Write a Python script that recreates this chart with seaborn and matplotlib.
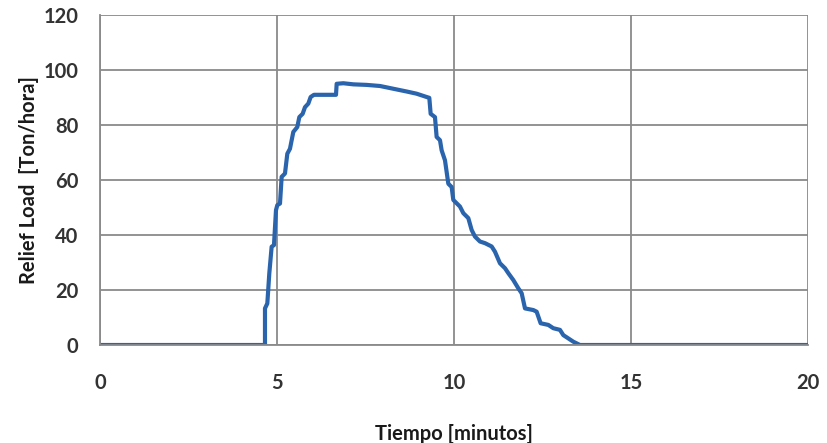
import matplotlib
matplotlib.use("Agg")
import matplotlib.pyplot as plt
import seaborn as sns
import pandas as pd

# Data
tiempo = [0.0, 4.661, 4.661, 4.727, 4.783, 4.849, 4.915, 4.972, 5.009, 5.085,
          5.132, 5.226, 5.292, 5.367, 5.461, 5.574, 5.631, 5.725, 5.791, 5.885,
          5.951, 6.045, 6.667, 6.686, 6.874, 7.156, 7.533, 7.910, 8.286, 8.663,
          8.945, 9.228, 9.303, 9.341, 9.463, 9.510, 9.605, 9.652, 9.746, 9.840,
          9.934, 9.981, 10.075, 10.169, 10.264, 10.405, 10.499, 10.593, 10.734, 10.876,
          11.064, 11.158, 11.299, 11.441, 11.535, 11.676, 11.817, 11.912, 12.006, 12.241,
          12.335, 12.448, 12.665, 12.806, 12.994, 13.088, 13.230, 13.371, 13.559, 20.0]
relief_load = [0.0, 0.0, 13.3, 15.1, 26.0, 35.7, 36.3, 49.0, 50.8, 51.4,
               61.1, 62.3, 69.5, 71.3, 77.4, 79.2, 82.8, 84.0, 86.4, 87.7,
               90.1, 90.9, 90.9, 94.9, 95.1, 94.7, 94.5, 94.1, 93.1, 92.1,
               91.3, 90.1, 89.8, 84.0, 82.8, 75.6, 74.4, 70.7, 67.1, 58.6,
               57.4, 52.7, 51.5, 50.3, 47.9, 46.1, 41.8, 39.4, 37.6, 37.0,
               35.8, 33.9, 29.7, 27.9, 26.1, 23.6, 20.6, 18.8, 13.3, 12.7,
               12.1, 7.9, 7.3, 6.1, 5.5, 3.6, 2.4, 1.2, 0.0, 0.0]
x_ticks = [0, 5, 10, 15, 20]
y_ticks = [0, 20, 40, 60, 80, 100, 120]
x_label = "Tiempo [minutos]"
y_label = "Relief Load  [Ton/hora]"

df = pd.DataFrame({"t": tiempo, "load": relief_load})

sns.set_theme(style="white")
plt.rcParams["font.family"] = ["Lato", "DejaVu Sans"]

fig = plt.figure(figsize=(8.27, 4.43), dpi=100)
ax = fig.add_axes([0.1209, 0.2212, 0.977 - 0.1209, 0.9668 - 0.2212])

sns.lineplot(data=df, x="t", y="load", ax=ax, color="#2a64ad",
             linewidth=3.0, sort=False, estimator=None)

ax.set_xlim(0, 20)
ax.set_ylim(0, 120)
ax.set_xticks(x_ticks)
ax.set_yticks(y_ticks)
ax.set_xticklabels([str(v) for v in x_ticks])
ax.set_yticklabels([str(v) for v in y_ticks])

grid_color = "#8a8a8a"
ax.grid(True, color=grid_color, linewidth=1.3)
ax.set_axisbelow(True)
for side in ["top", "right"]:
    ax.spines[side].set_visible(False)
for side in ["left", "bottom"]:
    ax.spines[side].set_color(grid_color)
    ax.spines[side].set_linewidth(1.3)

ax.tick_params(axis="both", which="major", direction="out", length=5.5,
               width=1.3, color=grid_color, labelsize=14.5, labelcolor="#333333")
ax.tick_params(axis="y", pad=10)
ax.tick_params(axis="x", pad=15)
for lbl in ax.get_xticklabels() + ax.get_yticklabels():
    lbl.set_fontweight("bold")

ax.set_xlabel(x_label, fontsize=14.5, fontweight="bold", color="#1a1a1a", labelpad=22)
ax.set_ylabel(y_label, fontsize=14.5, fontweight="bold", color="#1a1a1a", labelpad=3)

fig.savefig("out.png", dpi=100)
